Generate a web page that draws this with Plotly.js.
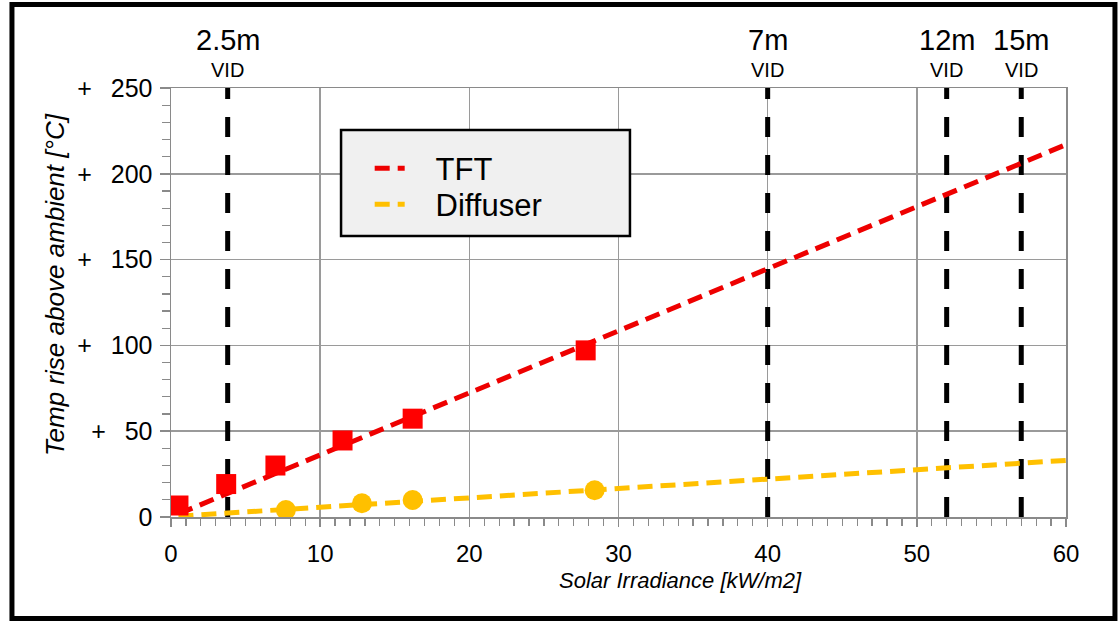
<!DOCTYPE html>
<html>
<head>
<meta charset="utf-8">
<script src="https://cdn.plot.ly/plotly-3.0.1.min.js"></script>
<style>
html,body{margin:0;padding:0;background:#fff;}
#chart{width:1118px;height:622px;}
</style>
</head>
<body>
<div id="chart"></div>
<script>
// ---- data ----
const tftX = [0.5, 3.7, 7.0, 11.5, 16.2, 27.8];
const tftY = [6.7, 19.2, 30.0, 44.6, 57.3, 97.1];
const diffX = [7.7, 12.8, 16.2, 28.4];
const diffY = [4.1, 8.0, 9.9, 15.6];
const tftTrendX = [0.5, 60];
const tftTrendY = [1.8, 217];
const diffTrendX = [0.5, 60];
const diffTrendY = [0.5, 33];
const vidX = [3.8, 40, 52, 57];
const vidLabels = ["2.5m", "7m", "12m", "15m"];
const vidSub = "VID";
const yTickVals = [0, 50, 100, 150, 200, 250];
const P = "+\u00a0\u00a0\u2009";
const yTickText = ["0", P + "50", P + "100", P + "150", P + "200", P + "250"];
const xTickVals = [0, 10, 20, 30, 40, 50, 60];
const seriesNames = ["TFT", "Diffuser"];
const xTitle = "Solar Irradiance [kW/m2]";
const yTitle = "Temp rise above ambient [°C]";
const yRange = [0, 250];

const FONT = "Arial, 'Liberation Sans', sans-serif";
const RED = "#ff0000";
const YEL = "#ffc000";

const traces = [];
vidX.forEach(v => {
  traces.push({
    x: [v, v], y: yRange, mode: "lines", showlegend: false, hoverinfo: "skip",
    line: {color: "#000", width: 5, dash: "20px,18px"}
  });
});
traces.push({
  x: tftTrendX, y: tftTrendY, mode: "lines", name: "\u00a0\u00a0\u00a0" + seriesNames[0],
  legend: "legend",
  line: {color: "#ee0000", width: 5, dash: "15px,8px"}
});
traces.push({
  x: diffTrendX, y: diffTrendY, mode: "lines", name: "\u00a0\u00a0\u00a0" + seriesNames[1],
  legend: "legend2",
  line: {color: YEL, width: 5, dash: "15px,8px"}
});
traces.push({
  x: tftX, y: tftY, mode: "markers", showlegend: false,
  marker: {symbol: "square", size: 20, color: RED}
});
traces.push({
  x: diffX, y: diffY, mode: "markers", showlegend: false,
  marker: {symbol: "circle", size: 20, color: YEL}
});

const annotations = [];
vidX.forEach((v, i) => {
  annotations.push({x: v, xref: "x", y: 1.112, yref: "paper", text: vidLabels[i], showarrow: false,
    xanchor: "center", yanchor: "middle", font: {family: FONT, size: 29, color: "#000"}});
  annotations.push({x: v, xref: "x", y: 1.042, yref: "paper", text: vidSub, showarrow: false,
    xanchor: "center", yanchor: "middle", font: {family: FONT, size: 20, color: "#000"}});
});
annotations.push({x: 0.569, xref: "paper", y: -0.147, yref: "paper", text: "<i>" + xTitle + "</i>",
  showarrow: false, xanchor: "center", yanchor: "middle", font: {family: FONT, size: 22, color: "#000"}});
annotations.push({x: -0.1296, xref: "paper", y: 0.541, yref: "paper", text: "<i>" + yTitle + "</i>",
  textangle: -90, showarrow: false, xanchor: "center", yanchor: "middle",
  font: {family: FONT, size: 26, color: "#000"}});

const legendCommon = {
  xanchor: "left", yanchor: "top",
  bgcolor: "rgba(0,0,0,0)", borderwidth: 0,
  font: {family: FONT, size: 31, color: "#000"}
};

const layout = {
  width: 1118, height: 622,
  margin: {l: 171, r: 52, t: 88, b: 105},
  paper_bgcolor: "#fff", plot_bgcolor: "#fff",
  font: {family: FONT, color: "#000"},
  showlegend: true,
  legend: Object.assign({x: 0.222, y: 0.8753}, legendCommon),
  legend2: Object.assign({x: 0.222, y: 0.7914}, legendCommon),
  xaxis: {
    range: [0, 60], tickvals: xTickVals, ticktext: xTickVals.map(String),
    showgrid: true, gridcolor: "#9a9a9a", gridwidth: 1.5,
    showline: true, linecolor: "#8a8a8a", linewidth: 1.5, mirror: true,
    ticks: "outside", ticklen: 8, tickcolor: "#8a8a8a", tickwidth: 1.5,
    minor: {dtick: 1, ticks: "outside", ticklen: 7, tickcolor: "#8a8a8a", tickwidth: 1.2, showgrid: false},
    tickfont: {family: FONT, size: 24, color: "#000"},
    ticklabelstandoff: 7,
    zeroline: false, fixedrange: true
  },
  yaxis: {
    range: yRange, tickvals: yTickVals, ticktext: yTickText,
    showgrid: true, gridcolor: "#9a9a9a", gridwidth: 1.5,
    showline: true, linecolor: "#8a8a8a", linewidth: 1.5, mirror: true,
    ticks: "outside", ticklen: 10, tickcolor: "#8a8a8a", tickwidth: 1.5,
    minor: {dtick: 10, ticks: "outside", ticklen: 8, tickcolor: "#8a8a8a", tickwidth: 1.2, showgrid: false},
    tickfont: {family: FONT, size: 25, color: "#000"},
    ticklabelstandoff: 2,
    zeroline: false, fixedrange: true
  },
  shapes: [
    // outer frame
    {type: "rect", xref: "paper", yref: "paper", x0: -0.1777, x1: 1.0547, y0: -0.2366, y1: 1.1946,
      line: {color: "#000", width: 5}, fillcolor: "rgba(0,0,0,0)", layer: "above"},
    // legend box
    {type: "rect", xref: "paper", yref: "paper", x0: 0.19, x1: 0.5128, y0: 0.655, y1: 0.9021,
      line: {color: "#000", width: 2.5}, fillcolor: "#f0f0f0", layer: "above"}
  ],
  annotations: annotations
};

Plotly.newPlot("chart", traces, layout, {displayModeBar: false, staticPlot: true});
</script>
</body>
</html>
